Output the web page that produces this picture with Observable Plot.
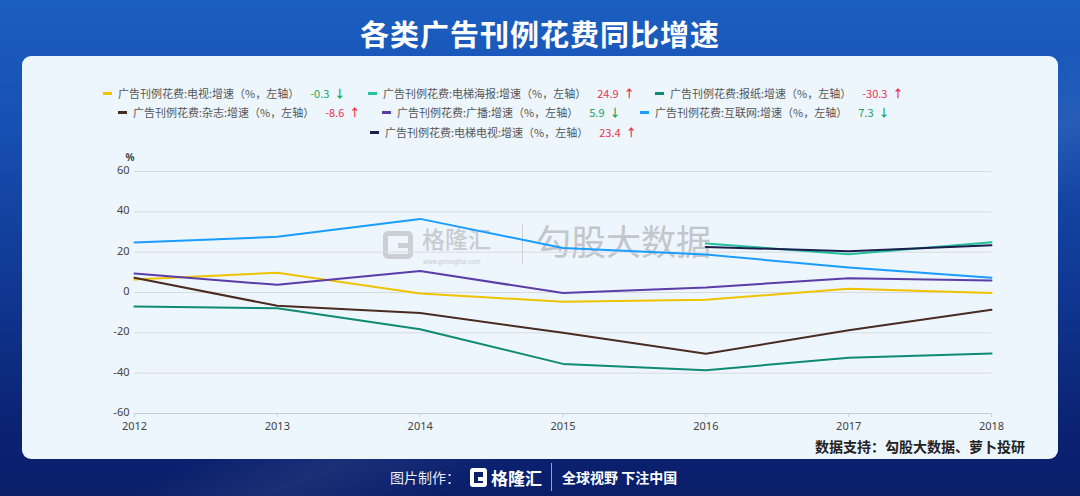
<!DOCTYPE html>
<html><head><meta charset="utf-8">
<script src="https://cdn.jsdelivr.net/npm/d3@7"></script>
<script src="https://cdn.jsdelivr.net/npm/@observablehq/plot@0.6"></script>
<style>
html,body{margin:0;padding:0;}
body{width:1080px;height:496px;overflow:hidden;position:relative;font-family:"Noto Sans CJK SC","Noto Sans",sans-serif;
background:linear-gradient(180deg,#1b5fc0 0%,#1750b3 25%,#0f3690 60%,#0b2373 85%,#0a1e6a 100%);}
#streak{position:absolute;left:0;top:0;width:1080px;height:496px;
background:linear-gradient(155deg,rgba(255,255,255,0) 55%,rgba(255,255,255,0.07) 62%,rgba(255,255,255,0) 70%);}
#title{position:absolute;left:0;top:13px;width:1080px;text-align:center;color:#fff;font-size:29px;font-weight:700;letter-spacing:1px;line-height:40px;}
#panel{position:absolute;left:22px;top:56px;width:1036px;height:403px;background:#edf5fd;border-radius:9px;}
.li{position:absolute;font-size:11px;color:#555;white-space:nowrap;display:flex;align-items:center;height:14px;}
.sw{display:inline-block;width:9px;height:3px;margin-right:6px;}
.val{margin-left:11px;font-size:11px;}
.arr{margin-left:5px;font-weight:700;font-size:11px;}
#wm{position:absolute;left:0;top:0;}
#wm div{white-space:nowrap;}
#chart{position:absolute;left:0;top:150px;}
#src{position:absolute;left:815px;top:436px;font-size:14px;font-weight:700;color:#222;white-space:nowrap;}
#footer{position:absolute;left:390px;top:464px;height:26px;display:flex;align-items:center;color:#fff;white-space:nowrap;}
</style></head>
<body>
<div id="streak"></div>
<div id="title">各类广告刊例花费同比增速</div>
<div id="panel"></div>
<div id="wm">
  <div style="position:absolute;left:383px;top:231px;width:30px;height:28px;border:5px solid #cbcfd4;border-radius:5px;box-sizing:border-box;"></div>
  <div style="position:absolute;left:398px;top:243px;width:15px;height:5px;background:#cbcfd4;"></div>
  <div style="position:absolute;left:422px;top:222px;font-size:23px;color:#c8ccd0;font-weight:500;line-height:32px;">格隆汇</div>
  <div style="position:absolute;left:423px;top:258px;font-size:6px;color:#c8ccd0;line-height:8px;">www.gelonghui.com</div>
  <div style="position:absolute;left:522px;top:223px;width:1px;height:42px;background:#cfd3d8;"></div>
  <div style="position:absolute;left:536px;top:218px;font-size:35px;color:#c2c6cb;line-height:44px;">勾股大数据</div>
</div>
<div id="legend"></div>
<div id="chart"></div>
<div id="src">数据支持：勾股大数据、萝卜投研</div>
<div id="footer">
  <span style="font-size:14px;color:#e8ecf5;">图片制作：</span>
  <span style="display:inline-block;margin-left:10px;width:17px;height:19px;border:4px solid #fff;border-radius:3px;box-sizing:border-box;position:relative;"><span style="position:absolute;right:-4px;top:5px;width:9px;height:4px;background:#fff;"></span></span>
  <span style="margin-left:4px;font-size:17px;font-weight:700;color:#fff;">格隆汇</span>
  <span style="display:inline-block;width:1px;height:28px;background:#8ea2d6;margin-left:9px;margin-right:10px;"></span>
  <span style="font-size:14px;font-weight:700;color:#fff;">全球视野 下注中国</span>
</div>
<script>
// ---- data ----
const years = [2012, 2013, 2014, 2015, 2016, 2017, 2018];
const seriesNames = [
  "广告刊例花费:电视:增速（%，左轴）",
  "广告刊例花费:电梯海报:增速（%，左轴）",
  "广告刊例花费:报纸:增速（%，左轴）",
  "广告刊例花费:杂志:增速（%，左轴）",
  "广告刊例花费:广播:增速（%，左轴）",
  "广告刊例花费:互联网:增速（%，左轴）",
  "广告刊例花费:电梯电视:增速（%，左轴）"
];
const tv         = [6.4, 9.8, -0.5, -4.6, -3.6, 1.8, -0.3];
const elevPoster = [null, null, null, null, 24.3, 19.0, 24.9];
const newspaper  = [-7.0, -7.8, -18.2, -35.4, -38.5, -32.4, -30.3];
const magazine   = [7.3, -6.6, -10.2, -20.0, -30.4, -18.7, -8.6];
const broadcast  = [9.4, 3.8, 10.7, -0.3, 2.5, 7.1, 5.9];
const internet   = [24.8, 27.6, 36.5, 22.1, 18.8, 12.4, 7.3];
const elevTV     = [null, null, null, null, 22.6, 20.5, 23.4];
const latestValues = ["-0.3", "24.9", "-30.3", "-8.6", "5.9", "7.3", "23.4"];
const latestDir    = ["down", "up", "up", "up", "down", "down", "up"];
const yTicks = [-60, -40, -20, 0, 20, 40, 60];
const yUnit = "%";

// ---- styles ----
const colors = ["#f0c300", "#22c1a0", "#0f8a74", "#4a2b22", "#5a3da6", "#1a9dff", "#1b1f4d"];
const allSeries = [tv, elevPoster, newspaper, magazine, broadcast, internet, elevTV];
const legendPos = [[103, 86], [368, 86], [655, 86], [118, 105], [382, 105], [640, 105], [370, 125]];

const rows = [];
allSeries.forEach((vals, si) => {
  vals.forEach((v, i) => { if (v !== null) rows.push({series: seriesNames[si], year: years[i], value: v}); });
});

// legend
const lg = document.getElementById("legend");
seriesNames.forEach((name, i) => {
  const d = document.createElement("div");
  d.className = "li";
  d.style.left = legendPos[i][0] + "px";
  d.style.top = legendPos[i][1] + "px";
  const c = latestDir[i] === "up" ? "#e8334d" : "#1ea45c";
  d.innerHTML = `<span class="sw" style="background:${colors[i]}"></span><span>${name}</span>` +
    `<span class="val" style="color:${c}">${latestValues[i]}</span><span class="arr" style="color:${c}">${latestDir[i] === "up" ? "↑" : "↓"}</span>`;
  lg.appendChild(d);
});

const chart = Plot.plot({
  width: 1080,
  height: 290,
  marginLeft: 134,
  marginRight: 89,
  marginTop: 21,
  marginBottom: 27,
  style: {background: "transparent", fontFamily: "'Noto Sans', sans-serif", overflow: "visible"},
  x: {domain: [2012, 2018]},
  y: {domain: [-60, 60]},
  color: {domain: seriesNames, range: colors},
  marks: [
    Plot.gridY(yTicks.filter(t => t > -60), {stroke: "#d6dbe1", strokeOpacity: 1, strokeWidth: 1}),
    Plot.ruleY([-60], {stroke: "#c4cad2", strokeWidth: 1.2}),
    Plot.axisY(yTicks, {tickSize: 0, tickPadding: 5, dy: -1, fontSize: 11, fill: "#444", label: null, tickFormat: d => String(d)}),
    Plot.axisX(years, {tickSize: 4, stroke: "#c8d4e2", tickPadding: 5, fontSize: 11, fill: "#444", label: null, tickFormat: d => String(d)}),
    Plot.text([yUnit], {frameAnchor: "top-left", lineAnchor: "middle", dx: -9, dy: -14, fontSize: 10, fill: "#444", fontWeight: 700}),
    Plot.line(rows, {x: "year", y: "value", z: "series", stroke: "series", strokeWidth: 2, curve: "linear"})
  ]
});
document.getElementById("chart").appendChild(chart);
</script>
</body></html>
